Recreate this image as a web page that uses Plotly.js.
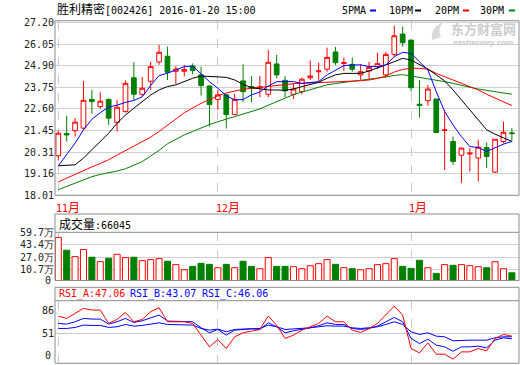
<!DOCTYPE html>
<html><head><meta charset="utf-8">
<script src="https://cdn.plot.ly/plotly-3.0.1.min.js"></script>
<style>html,body{margin:0;padding:0;background:#fff;}#chart{width:520px;height:365px;}</style>
</head><body><div id="chart"></div>
<script>
// ---- data ----
const dates = ["2015-11-04","2015-11-05","2015-11-06","2015-11-09","2015-11-10","2015-11-11","2015-11-12","2015-11-13","2015-11-16","2015-11-17","2015-11-18","2015-11-19","2015-11-20","2015-11-23","2015-11-24","2015-11-25","2015-11-26","2015-11-27","2015-11-30",
"2015-12-01","2015-12-02","2015-12-03","2015-12-04","2015-12-07","2015-12-08","2015-12-09","2015-12-10","2015-12-11","2015-12-14","2015-12-15","2015-12-16","2015-12-17","2015-12-18","2015-12-21","2015-12-22","2015-12-23","2015-12-24","2015-12-25","2015-12-28","2015-12-29","2015-12-30","2015-12-31",
"2016-01-04","2016-01-05","2016-01-06","2016-01-07","2016-01-08","2016-01-11","2016-01-12","2016-01-13","2016-01-14","2016-01-15","2016-01-18","2016-01-19","2016-01-20"];
const openP  = [20.11,21.29,21.45,21.58,23.11,22.73,23.11,21.89,22.46,24.26,23.38,24.07,25.10,25.40,24.60,24.60,24.88,24.41,23.82,23.11,23.35,22.30,24.09,23.79,23.72,23.38,24.99,24.12,23.38,23.52,24.26,24.58,24.71,25.63,25.02,24.97,24.41,24.62,24.85,24.41,25.50,26.58,26.26,22.85,23.04,23.13,21.45,20.87,20.14,20.21,19.99,20.55,19.24,20.87,21.33];
const highP  = [21.45,22.23,22.12,24.09,23.61,23.49,23.15,23.08,24.11,25.08,24.30,25.11,26.00,25.91,24.88,24.94,25.02,24.85,23.85,23.61,23.40,23.40,24.97,24.35,24.35,25.73,25.47,24.35,23.96,24.26,25.17,25.06,25.86,25.89,25.33,25.34,24.99,25.11,25.59,25.64,27.02,26.97,26.26,24.14,23.88,23.13,22.55,21.13,20.55,20.52,20.96,20.82,21.00,21.93,21.58];
const lowP   = [19.86,20.87,21.13,21.49,22.34,22.60,21.75,21.40,22.41,23.08,23.26,23.61,24.95,24.14,23.93,24.32,24.44,23.31,21.66,22.55,21.56,22.28,22.96,22.96,23.22,23.22,24.23,23.22,23.13,23.38,24.14,24.09,24.58,24.94,24.62,24.58,24.14,24.14,24.71,24.26,25.38,25.91,23.52,22.14,22.78,21.31,19.35,19.63,18.66,19.28,18.75,19.46,19.19,20.78,20.90];
const closeP = [21.31,21.22,21.90,23.06,22.99,23.01,22.11,22.69,23.96,23.38,23.70,24.85,25.61,24.55,24.72,24.70,24.64,23.84,22.83,23.35,22.30,23.11,23.52,23.70,23.77,25.08,24.41,23.56,23.66,24.18,24.35,24.62,25.34,25.06,25.06,24.71,24.58,24.81,25.01,25.50,26.49,26.12,23.73,22.78,23.66,21.35,21.49,19.81,20.52,20.25,20.57,20.07,20.99,21.36,21.29];
const ma5  = [19.58,20.16,20.78,21.49,22.05,22.40,22.70,22.80,22.95,23.05,23.25,23.85,24.37,24.50,24.67,24.85,24.88,24.45,24.05,23.70,23.30,23.08,23.10,23.35,23.50,23.82,24.05,24.05,24.05,23.96,24.00,24.05,24.41,24.67,24.90,24.94,24.94,24.85,24.85,24.94,25.38,25.61,25.55,25.11,24.67,23.52,22.46,21.75,21.13,20.60,20.55,20.34,20.55,20.73,20.87];
const ma10 = [19.58,19.60,19.63,19.99,20.43,20.87,21.31,21.84,22.28,22.64,22.99,23.34,23.61,23.79,23.88,24.05,24.23,24.35,24.32,24.28,24.28,24.14,23.91,23.73,23.66,23.61,23.61,23.59,23.66,23.79,23.88,24.02,24.23,24.41,24.49,24.49,24.49,24.62,24.76,24.94,25.11,25.29,25.20,24.97,24.72,24.41,24.09,23.61,23.08,22.55,22.02,21.49,21.26,21.08,20.87];
const ma20 = [18.72,18.92,19.12,19.35,19.52,19.70,19.90,20.15,20.38,20.60,20.85,21.10,21.40,21.75,22.10,22.40,22.65,22.90,23.10,23.30,23.45,23.56,23.64,23.70,23.75,23.79,23.86,23.91,23.94,23.96,23.98,24.00,24.00,24.02,24.05,24.08,24.10,24.14,24.22,24.35,24.56,24.70,24.76,24.76,24.71,24.49,24.32,24.14,23.96,23.79,23.61,23.38,23.17,22.96,22.78];
const ma30 = [18.31,18.48,18.66,18.84,19.00,19.12,19.20,19.30,19.42,19.60,19.80,20.10,20.40,20.75,21.00,21.22,21.40,21.60,21.77,21.92,22.05,22.18,22.30,22.45,22.60,22.80,23.00,23.20,23.36,23.50,23.64,23.77,23.88,23.95,24.02,24.07,24.12,24.17,24.23,24.30,24.38,24.42,24.35,24.28,24.19,24.11,24.05,23.96,23.84,23.75,23.66,23.59,23.52,23.45,23.38];
const volume = [53.0,36.2,27.8,37.1,27.0,21.2,25.6,30.9,26.5,27.0,22.5,23.9,25.2,21.7,17.3,10.6,15.0,19.0,17.7,13.3,17.7,13.3,21.7,15.0,12.0,26.5,15.0,15.0,14.6,12.0,15.9,18.6,23.9,17.7,13.3,12.0,10.6,12.0,17.3,18.6,25.2,15.0,12.4,23.0,13.3,5.8,17.3,16.4,17.3,15.9,14.6,13.3,21.2,12.0,6.6];
const rsiA = [77,73.5,81,88.5,86,86,66,72,82.5,68.5,72,83.5,89.5,68.5,68.5,68.5,66,48.5,31,42,28.5,46,52,54.5,57,77,63.5,43.5,48.5,56,61,66,77,68.5,68.5,56,52.5,58.5,66,78.5,92,78.5,28.5,22,37,20,20,12.5,23.5,23.5,28.5,25,43.5,49.5,47.06];
const rsiB = [66,65,68.5,73.5,72.5,72.5,65,68.5,73.5,67.5,70,74.5,78.5,69.5,69.5,69.5,68.5,59.5,52,57,48.5,56,57,58,57,67,61,52,55,57,59.5,62.5,67,64.5,64.5,58.5,57,58.5,62,68.5,75,68.5,43.5,36,42.5,33.5,31,24.5,31,31,32,29.5,41,44.5,43.07];
const rsiC = [58.5,58.5,60,63.5,63,63,60,61,64.5,62,63,65,67,64.5,64.5,64.5,63.5,58.5,56,57.5,53.5,57,57.5,58,58.5,63.5,61,57,57.5,58.5,59.5,61,62.5,62,62,59.5,58.5,59.5,61,64.5,68.5,64.5,53.5,49.5,52,47,46,40,41,41,41,41,44.5,46,46.06];
const priceTicks = [18.01,19.16,20.31,21.45,22.60,23.75,24.90,26.05,27.20];
const volTicks = [10.7,27.0,43.4,59.7];
const volTickText = ["10.7万","27.0万","43.4万","59.7万"];
const volZeroLabel = "0";
const rsiTicks = [51,86];
const rsiZeroLabel = "0";
const monthTicks = ["2015-11-04","2015-12-01","2016-01-04"];
const monthLabels = ["11月","12月","1月"];
const maNames = ["5PMA","10PM","20PM","30PM"];
const stockTitle = "胜利精密";
const stockCode = "[002426] 2016-01-20 15:00";
const volLabel = "成交量";
const volLast = "66045";
const rsiLabels = ["RSI_A:47.06","RSI_B:43.07","RSI_C:46.06"];

// ---- styling ----
const RED = "#ff0000", GREEN = "#008000", BLUE = "#0000ff";
const MONO = '"DejaVu Sans Mono", "Liberation Mono", monospace';
const CJK = '"Noto Sans CJK SC", sans-serif';
const W = 520, H = 365;
const px = v => v / W, py = v => 1 - v / H;
const cj = t => '<span style="font-family:Noto Sans CJK SC;font-size:12px">' + t + '</span>';
const XL = 55, XR = 519;
const VOL_FLOOR = -3.5; // bottom of the volume axis

const up = closeP.map((c, i) => c >= openP[i]);

const traces = [
  {type: "candlestick", x: dates, open: openP, high: highP, low: lowP, close: closeP,
   xaxis: "x", yaxis: "y", whiskerwidth: 0, line: {width: 1},
   increasing: {line: {color: RED, width: 1}, fillcolor: "#ffffff"},
   decreasing: {line: {color: GREEN, width: 1}, fillcolor: GREEN}, hoverinfo: "skip"},
  {type: "scatter", mode: "lines", x: dates, y: ma30, line: {color: GREEN, width: 1}, xaxis: "x", yaxis: "y"},
  {type: "scatter", mode: "lines", x: dates, y: ma20, line: {color: RED, width: 1}, xaxis: "x", yaxis: "y"},
  {type: "scatter", mode: "lines", x: dates, y: ma10, line: {color: "#000000", width: 1}, xaxis: "x", yaxis: "y"},
  {type: "scatter", mode: "lines", x: dates, y: ma5, line: {color: BLUE, width: 1}, xaxis: "x", yaxis: "y"},
  {type: "bar", x: dates, y: volume.map(v => v - VOL_FLOOR), base: VOL_FLOOR, width: 0.72, xaxis: "x2", yaxis: "y2",
   marker: {color: up.map(u => u ? "#ffffff" : GREEN), line: {color: up.map(u => u ? RED : GREEN), width: 1}}},
  {type: "scatter", mode: "lines", x: dates, y: rsiC, line: {color: BLUE, width: 1}, xaxis: "x3", yaxis: "y3"},
  {type: "scatter", mode: "lines", x: dates, y: rsiB, line: {color: BLUE, width: 1}, xaxis: "x3", yaxis: "y3"},
  {type: "scatter", mode: "lines", x: dates, y: rsiA, line: {color: RED, width: 1}, xaxis: "x3", yaxis: "y3"}
];

const xBase = {type: "category", domain: [px(XL), px(XR)], range: [-0.39, 54.85], tickvals: monthTicks,
  showticklabels: false, showgrid: true, griddash: "dash", gridcolor: "#c8c8c8", gridwidth: 1,
  zeroline: false, showline: false, ticks: "", fixedrange: true};
const yFont = {family: MONO, size: 10, color: "#222"};

const annotations = [];
monthTicks.forEach((m, i) => annotations.push({xref: "x", yref: "paper", x: m, y: py(206), xanchor: "left", yanchor: "middle", xshift: -4,
  text: monthLabels[i].replace(/月/, cj("月")), showarrow: false, font: {family: MONO, size: 10, color: RED}}));
const legX = [340, 387, 433, 478];
maNames.forEach((n, i) => annotations.push({xref: "paper", yref: "paper", x: px(legX[i]), y: py(10.5), xanchor: "left", yanchor: "middle",
  text: n, showarrow: false, font: {family: MONO, size: 10, color: "#000"}}));
annotations.push({xref: "paper", yref: "paper", x: px(57), y: py(223), xanchor: "left", yanchor: "middle",
  text: cj(volLabel) + ":" + volLast, showarrow: false, font: {family: MONO, size: 10, color: "#000"}});
const rsiX = [57, 128, 200], rsiCol = [RED, BLUE, BLUE];
rsiLabels.forEach((t, i) => annotations.push({xref: "paper", yref: "paper", x: px(rsiX[i]), y: py(294), xanchor: "left", yanchor: "middle",
  text: t, showarrow: false, font: {family: MONO, size: 10, color: rsiCol[i]}}));
annotations.push({xref: "paper", yref: "paper", x: px(52.5), y: py(355), xanchor: "right", yanchor: "middle",
  text: rsiZeroLabel, showarrow: false, font: yFont});
annotations.push({xref: "paper", yref: "paper", x: px(52.5), y: py(280.5), xanchor: "right", yanchor: "middle",
  text: volZeroLabel, showarrow: false, font: yFont});
// watermark
annotations.push({xref: "paper", yref: "paper", x: px(483), y: py(28.5), xanchor: "center", yanchor: "middle",
  text: "<b>东方财富网</b>", showarrow: false, font: {family: CJK, size: 13, color: "#cccccc"}});
annotations.push({xref: "paper", yref: "paper", x: px(483), y: py(43), xanchor: "center", yanchor: "middle",
  text: "<b><i>eastmoney.com</i></b>", showarrow: false, font: {family: "Liberation Sans", size: 8, color: "#c8c8c8"}});

const FR = "#8c8c8c";
const shapes = [
  {type: "rect", xref: "paper", yref: "paper", x0: px(XL), x1: px(XR), y0: py(195.3), y1: py(20.7), line: {color: FR, width: 1}},
  {type: "rect", xref: "paper", yref: "paper", x0: px(XL), x1: px(XR), y0: py(280.5), y1: py(214), line: {color: FR, width: 1}},
  {type: "line", xref: "paper", yref: "paper", x0: px(XL), x1: px(XR), y0: py(232.3), y1: py(232.3), line: {color: FR, width: 1}},
  {type: "rect", xref: "paper", yref: "paper", x0: px(XL), x1: px(XR), y0: py(363.3), y1: py(287.3), line: {color: FR, width: 1}},
  {type: "line", xref: "paper", yref: "paper", x0: px(XL), x1: px(XR), y0: py(300.7), y1: py(300.7), line: {color: FR, width: 1}},
  {type: "line", xref: "paper", yref: "y3", x0: px(XL), x1: px(XR), y0: 51, y1: 51, line: {color: "#c8c8c8", width: 1}, layer: "below"},
  {type: "path", xref: "paper", yref: "paper", layer: "below",
   path: "M " + px(432) + "," + py(40) + " Q " + px(430) + "," + py(28) + " " + px(443) + "," + py(22) + " Q " + px(437) + "," + py(30) + " " + px(441) + "," + py(37) + " Z",
   fillcolor: "#d8d8d8", line: {width: 0}}
];
const dashX = [[370, 376], [415, 421], [463, 469], [509, 515]], dashC = [BLUE, "#000", RED, GREEN];
dashX.forEach((d, i) => shapes.push({type: "line", xref: "paper", yref: "paper", x0: px(d[0]), x1: px(d[1]), y0: py(10.5), y1: py(10.5), line: {color: dashC[i], width: 2}}));

const layout = {
  width: W, height: H, margin: {l: 0, r: 0, t: 0, b: 0}, paper_bgcolor: "#fff", plot_bgcolor: "#fff",
  showlegend: false, hovermode: false, boxgap: 0.2,
  title: {text: cj(stockTitle) + stockCode, xref: "paper", yref: "paper", x: px(57), xanchor: "left", y: py(10.5), yanchor: "middle",
    font: {family: MONO, size: 10, color: "#000"}},
  xaxis: Object.assign({}, xBase, {anchor: "y", rangeslider: {visible: false}}),
  xaxis2: Object.assign({}, xBase, {anchor: "y2", matches: "x"}),
  xaxis3: Object.assign({}, xBase, {anchor: "y3", matches: "x"}),
  yaxis: {domain: [py(195.3), py(20.7)], range: [18.01, 27.29], tickvals: priceTicks, tickformat: ".2f",
    showgrid: true, gridcolor: "#d0d0d0", gridwidth: 1, zeroline: false, showline: false, ticks: "", tickfont: yFont, fixedrange: true},
  yaxis2: {domain: [py(280.5), py(232.3)], range: [VOL_FLOOR, 59.7], tickvals: volTicks, ticktext: volTickText,
    showgrid: true, gridcolor: "#d0d0d0", gridwidth: 1, zeroline: false, showline: false, ticks: "", tickfont: yFont, fixedrange: true},
  yaxis3: {domain: [py(363.3), py(300.7)], range: [6.4, 100], tickvals: rsiTicks,
    showgrid: false, zeroline: false, showline: false, ticks: "", tickfont: yFont, fixedrange: true},
  annotations: annotations, shapes: shapes
};
Plotly.newPlot("chart", traces, layout, {staticPlot: true, displayModeBar: false});
</script></body></html>
